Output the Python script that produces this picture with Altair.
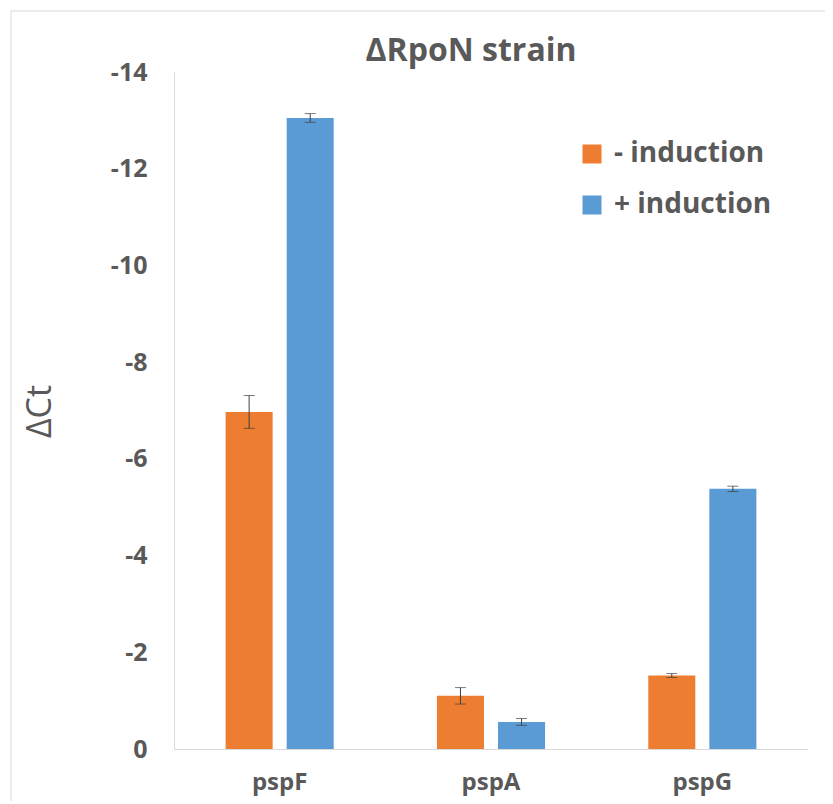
import altair as alt
import pandas as pd

genes = ["pspF", "pspA", "pspG"]
conditions = ["- induction", "+ induction"]
minus_vals = [-6.97, -1.10, -1.52]
minus_err = [0.34, 0.17, 0.04]
plus_vals = [-13.05, -0.56, -5.38]
plus_err = [0.09, 0.07, 0.055]
y_ticks = [-14, -12, -10, -8, -6, -4, -2, 0]
colors = ["#ED7D31", "#5B9BD5"]

rows = []
for g, v, e in zip(genes, minus_vals, minus_err):
    rows.append({"gene": g, "cond": conditions[0], "value": v, "lo": v - e, "hi": v + e})
for g, v, e in zip(genes, plus_vals, plus_err):
    rows.append({"gene": g, "cond": conditions[1], "value": v, "lo": v - e, "hi": v + e})
df = pd.DataFrame(rows)

FONT = "Open Sans"
GREY = "#595959"
LINE = "#D9D9D9"

x_enc = alt.X("gene:N", sort=genes, scale=alt.Scale(paddingInner=0, paddingOuter=0),
              axis=alt.Axis(title=None, labelAngle=0, labelFont=FONT, labelFontSize=24,
                            labelFontWeight="bold", labelColor=GREY, labelPadding=21,
                            ticks=False, tickSize=0, domainColor=LINE, domainWidth=1))
xoff = alt.XOffset("cond:N", sort=conditions,
                   scale=alt.Scale(paddingInner=0.23, paddingOuter=0.845))
y_scale = alt.Scale(domain=[0, -14], nice=False, zero=False)

base = alt.Chart(df)

bars = base.mark_bar().encode(
    x=x_enc,
    xOffset=xoff,
    y=alt.Y("value:Q", scale=y_scale,
            axis=alt.Axis(values=y_ticks, labelExpr="'' + datum.value", grid=False,
                          ticks=False, tickSize=0, labelFont=FONT, labelFontSize=25,
                          labelFontWeight="bold", labelColor=GREY, labelPadding=27,
                          domainColor=LINE, domainWidth=1,
                          title="ΔCt", titleFont=FONT, titleFontSize=34,
                          titleFontWeight="normal", titleColor=GREY, titleAngle=270,
                          titleX=-134, titleY=339, titleAlign="center",
                          titleBaseline="middle")),
    y2=alt.datum(0),
    color=alt.Color("cond:N", sort=conditions,
                    scale=alt.Scale(domain=conditions, range=colors),
                    legend=alt.Legend(title=None, orient="none", legendX=404, legendY=68,
                                      symbolType="square", symbolSize=361,
                                      symbolStrokeWidth=0, labelFont=FONT,
                                      labelFontSize=28, labelFontWeight="bold",
                                      labelColor=GREY, rowPadding=23, labelOffset=8)),
)

rules = base.mark_rule(color="#404040", strokeWidth=1).encode(
    x=alt.X("gene:N", sort=genes), xOffset=xoff,
    y=alt.Y("lo:Q", scale=y_scale), y2="hi:Q",
)
caps_lo = base.mark_tick(color="#404040", thickness=1, size=11).encode(
    x=alt.X("gene:N", sort=genes), xOffset=xoff, y=alt.Y("lo:Q", scale=y_scale),
)
caps_hi = base.mark_tick(color="#404040", thickness=1, size=11).encode(
    x=alt.X("gene:N", sort=genes), xOffset=xoff, y=alt.Y("hi:Q", scale=y_scale),
)

frame_src = alt.Chart(pd.DataFrame({"f": [0]}))
frame_top = frame_src.mark_rule(color=LINE, strokeWidth=1, clip=False).encode(
    x=alt.value(-163), x2=alt.value(1000), y=alt.value(-61))
frame_left = frame_src.mark_rule(color=LINE, strokeWidth=1, clip=False).encode(
    x=alt.value(-163), y=alt.value(-61), y2=alt.value(1000))

chart = alt.layer(frame_top, frame_left, bars, rules, caps_lo, caps_hi).properties(
    width=634, height=677,
    title=alt.TitleParams("ΔRpoN strain", font=FONT, fontSize=32, fontWeight="bold",
                          color=GREY, anchor="middle", frame="group", dx=-20,
                          baseline="alphabetic", offset=0, dy=82),
    autosize=alt.AutoSizeParams(type="none"),
    padding={"left": 166, "top": 64, "right": 17, "bottom": 52},
).configure(background="white").configure_view(stroke=None)

chart.save("out.html", embed_options={"renderer": "svg", "actions": False})
